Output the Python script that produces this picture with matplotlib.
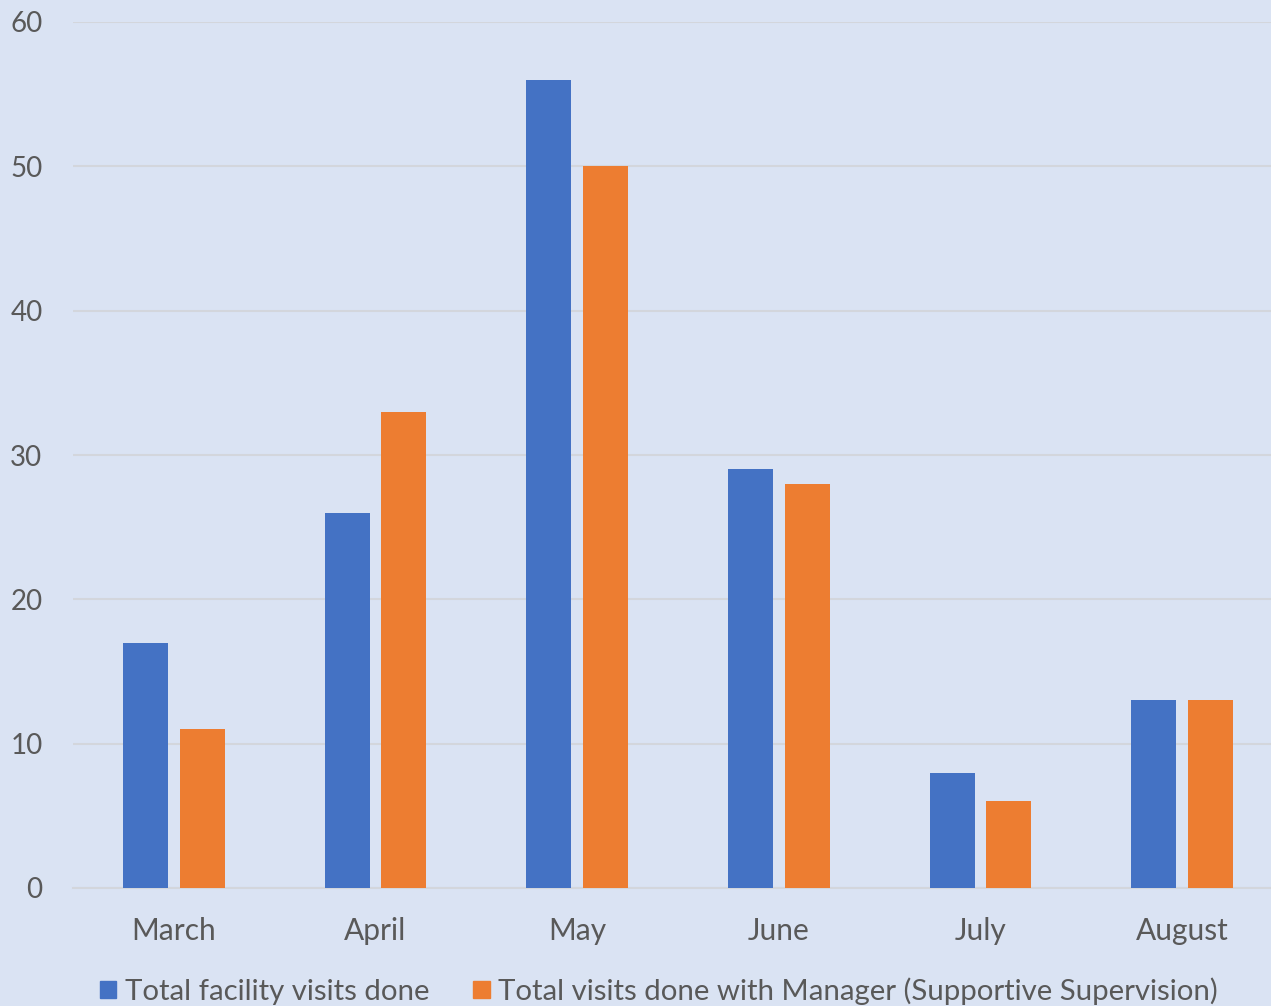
import matplotlib
matplotlib.use("Agg")
import matplotlib.pyplot as plt
import numpy as np
from matplotlib.patches import Patch

months = ["March", "April", "May", "June", "July", "August"]
facility_visits = [17, 26, 56, 29, 8, 13]
manager_visits = [11, 33, 50, 28, 6, 13]
series_names = ["Total facility visits done",
                "Total visits done with Manager (Supportive Supervision)"]
yticks = [0, 10, 20, 30, 40, 50, 60]

BG = "#DAE3F3"
BLUE = "#4472C4"
ORANGE = "#ED7D31"
TXT = "#595959"
GRID = "#D3D6DC"

plt.rcParams['font.family'] = ['Lato', 'DejaVu Sans']

W, H = 1271, 1006
fig = plt.figure(figsize=(W / 100, H / 100), dpi=100, facecolor=BG)
ax = fig.add_axes([73 / W, 1 - 888 / H, 1210 / W, (888 - 22) / H])
ax.set_facecolor(BG)

x = np.arange(len(months))
bw = 0.223
off = 0.141
ax.bar(x - off, facility_visits, bw, color=BLUE, zorder=3)
ax.bar(x + off, manager_visits, bw, color=ORANGE, zorder=3)

ax.set_xlim(-0.5, len(months) - 0.5)
ax.set_ylim(0, 60)
ax.set_yticks(yticks)
ax.set_xticks(x)
ax.set_xticklabels(months)
ax.yaxis.grid(True, color=GRID, linewidth=1.5, zorder=0)
ax.set_axisbelow(True)
for s in ["top", "right", "left"]:
    ax.spines[s].set_visible(False)
ax.spines["bottom"].set_color(GRID)
ax.spines["bottom"].set_linewidth(1.5)
ax.tick_params(axis="both", length=0, labelsize=20, colors=TXT)
ax.tick_params(axis="x", labelsize=21.5, pad=21)
ax.tick_params(axis="y", pad=22)

handles = [Patch(color=BLUE, label=series_names[0]),
           Patch(color=ORANGE, label=series_names[1])]
leg = fig.legend(handles=handles, loc="center", bbox_to_anchor=(659 / W, 1 - 991 / H),
                 ncol=2, frameon=False, fontsize=21.2, handlelength=0.55, handleheight=0.55,
                 handletextpad=0.3, columnspacing=1.5, labelcolor=TXT)

fig.savefig("out.png", dpi=100, facecolor=BG)
